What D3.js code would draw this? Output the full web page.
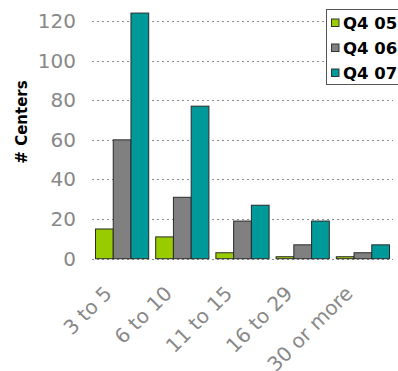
<!DOCTYPE html>
<html>
<head>
<meta charset="utf-8">
<script src="https://cdn.jsdelivr.net/npm/d3@7"></script>
<style>
  html, body { margin: 0; padding: 0; background: #fff; }
  svg { display: block; }
  text { font-family: "DejaVu Sans", Verdana, sans-serif; }
</style>
</head>
<body>
<svg id="chart" width="398" height="371"></svg>
<script>
// Centers by size bucket, one series per quarter
const categories = ["3 to 5", "6 to 10", "11 to 15", "16 to 29", "30 or more"];
const seriesNames = ["Q4 05", "Q4 06", "Q4 07"];
const q405 = [15, 11, 3, 1, 1];
const q406 = [60, 31, 19, 7, 3];
const q407 = [124, 77, 27, 19, 7];
const yTicks = [0, 20, 40, 60, 80, 100, 120];
const colors = ["#99cc00", "#808080", "#009999"];

const seriesValues = [q405, q406, q407];

const svg = d3.select("#chart");
const plot = { left: 92, right: 393, top: 21, bottom: 258.7 };

const x0 = d3.scaleBand().domain(categories).range([plot.left, plot.right]).padding(0);
const x1 = d3.scaleBand().domain(seriesNames)
  .range([x0.bandwidth() * 0.058, x0.bandwidth() * 0.942]).padding(0);
const y = d3.scaleLinear().domain([0, 120]).range([plot.bottom, plot.top]);
const color = d3.scaleOrdinal().domain(seriesNames).range(colors);

// Dotted horizontal gridlines (including the baseline)
svg.append("g")
  .selectAll("line")
  .data(yTicks)
  .join("line")
  .attr("x1", plot.left)
  .attr("x2", plot.right)
  .attr("y1", d => Math.round(y(d)) + 0.5)
  .attr("y2", d => Math.round(y(d)) + 0.5)
  .attr("stroke", "#8c8c8c")
  .attr("stroke-width", 1)
  .attr("stroke-dasharray", "2,3");

// Y axis labels
const yAxis = d3.axisLeft(y).tickValues(yTicks).tickSize(0).tickPadding(0);
const yg = svg.append("g")
  .attr("transform", `translate(${plot.left - 16},0)`)
  .call(yAxis);
yg.select(".domain").remove();
yg.selectAll("text")
  .attr("font-size", 20)
  .attr("fill", "#888888");

// Y axis title
svg.append("text")
  .attr("transform", `translate(27,122) rotate(-90)`)
  .attr("text-anchor", "middle")
  .attr("font-size", 15)
  .attr("font-weight", "bold")
  .attr("fill", "#000")
  .text("# Centers");

// Bars
const groups = svg.append("g")
  .selectAll("g")
  .data(categories)
  .join("g")
  .attr("transform", d => `translate(${x0(d)},0)`);

groups.selectAll("rect")
  .data((d, i) => seriesNames.map((s, j) => ({ s, v: seriesValues[j][i] })))
  .join("rect")
  .attr("x", d => x1(d.s))
  .attr("y", d => y(d.v))
  .attr("width", x1.bandwidth())
  .attr("height", d => y(0) - y(d.v))
  .attr("fill", d => color(d.s))
  .attr("stroke", "#2a2a2a")
  .attr("stroke-width", 1);

// X axis labels, rotated
const xAxis = d3.axisBottom(x0).tickSize(0).tickPadding(0);
const xg = svg.append("g")
  .attr("transform", `translate(0,${plot.bottom})`)
  .call(xAxis);
xg.select(".domain").remove();
xg.selectAll("text")
  .attr("font-size", 20)
  .attr("fill", "#888888")
  .attr("text-anchor", "end")
  .attr("y", 0)
  .attr("dy", null)
  .attr("transform", "translate(-9,36) rotate(-45)");

// Legend
const legend = svg.append("g");
legend.append("rect")
  .attr("x", 326.5)
  .attr("y", 9.5)
  .attr("width", 80)
  .attr("height", 75)
  .attr("fill", "#fff")
  .attr("stroke", "#555")
  .attr("stroke-width", 1);

const items = legend.selectAll("g.item")
  .data(seriesNames)
  .join("g")
  .attr("class", "item")
  .attr("transform", (d, i) => `translate(0,${23 + i * 25})`);

items.append("rect")
  .attr("x", 331.5)
  .attr("y", -4)
  .attr("width", 7.5)
  .attr("height", 7.5)
  .attr("fill", d => color(d))
  .attr("stroke", "#333")
  .attr("stroke-width", 1);

items.append("text")
  .attr("x", 343)
  .attr("y", 6)
  .attr("font-size", 16.5)
  .attr("font-weight", "bold")
  .attr("fill", "#000")
  .text(d => d);
</script>
</body>
</html>
